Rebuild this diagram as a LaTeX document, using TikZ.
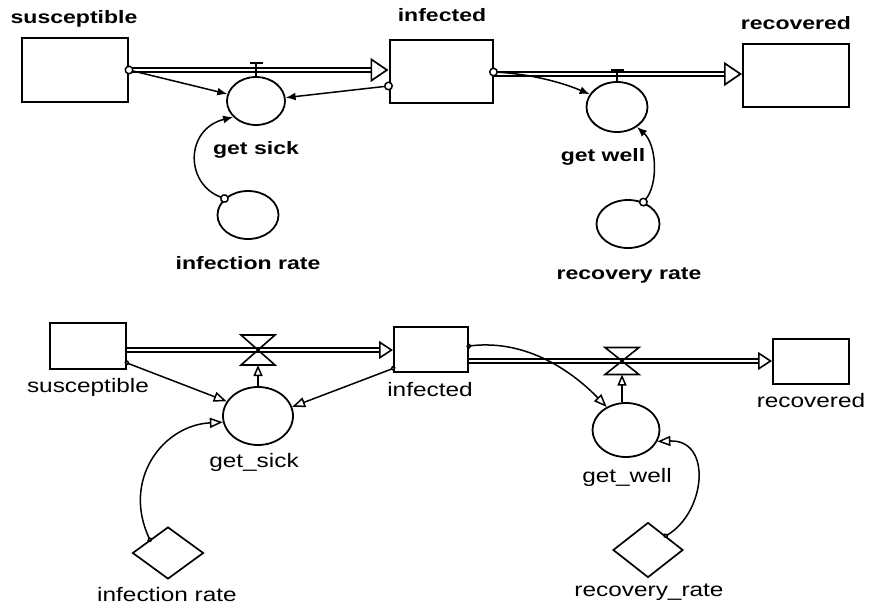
\documentclass[tikz,border=0pt]{standalone}
\usepackage{fontspec}
\setmainfont{Liberation Sans}
\newfontfamily\stellafont[FakeStretch=1.28]{Liberation Sans}
\newfontfamily\vensimfont[FakeStretch=1.25]{Liberation Sans}
\usetikzlibrary{shapes.geometric,arrows.meta,calc,positioning}
\newcommand{\valve}[3]{
  % hourglass valve sitting on a pipe
  \draw[line width=1.6pt] ($(#1)+(-#2,-#3)$) -- ($(#1)+(#2,-#3)$) -- ($(#1)+(-#2,#3)$) -- ($(#1)+(#2,#3)$) -- cycle;
}
\tikzset{x=1pt}
\tikzset{y=-1pt}
\tikzstyle{stock}=[draw, line width=2pt, inner sep=0]
\tikzstyle{aux}=[ellipse, draw, line width=1.8pt, inner sep=0]
\tikzstyle{const}=[diamond, draw, line width=1.7pt, inner sep=0]
\tikzstyle{stellalabel}=[inner sep=0, font=\stellafont\bfseries\fontsize{18}{20}\selectfont]
\tikzstyle{vensimlabel}=[inner sep=0, font=\vensimfont\fontsize{19.5}{22}\selectfont]
\tikzset{pipe/.style={double, double distance=2.5pt, line width=1.7pt,
    -{Triangle[open,length=18pt,width=24pt]}}}
\tikzset{pipetwo/.style={double, double distance=2pt, line width=1.6pt,
    -{Triangle[open,length=14pt,width=18pt]}}}
\tikzset{infoline/.style={line width=1.5pt, shorten <=-4.5pt,
    {Circle[length=9pt,fill=white]}-{Latex[length=10pt,width=8pt]}}}
\tikzset{infolinetwo/.style={line width=1.5pt, shorten <=-2.5pt,
    {Circle[length=5pt,fill=white]}-{Triangle[open,length=13pt,width=10pt]}}}
\tikzset{valvebar/.style={line width=1.6pt, -{Bar[width=13pt]}}}
\tikzset{rateline/.style={line width=1.5pt, -{Triangle[open,length=11pt,width=9pt]}}}

\begin{document}
\begin{tikzpicture}
  \useasboundingbox (0,0) rectangle (877,607);
  %% Stella version
  \draw (75,70) node[stock,minimum width=106pt,minimum height=64pt] (S1) {};
  \draw (441,72) node[stock,minimum width=103pt,minimum height=63pt] (I1) {};
  \draw (796,76) node[stock,minimum width=106pt,minimum height=63pt] (R1) {};
  \draw (256,101) node[aux,minimum width=58pt,minimum height=48pt] (GS1) {};
  \draw (248,215) node[aux,minimum width=61pt,minimum height=48pt] (IR1) {};
  \draw (617,107) node[aux,minimum width=61pt,minimum height=50pt] (GW1) {};
  \draw (628,224) node[aux,minimum width=63pt,minimum height=48pt] (RR1) {};
  \coordinate (V1) at (256,70);
  \coordinate (V3) at (617,74);
  \coordinate (T1) at (256,62);
  \coordinate (T3) at (617,69);

  \draw (74,19) node[stellalabel] (S1label) {susceptible};
  \draw (442,15) node[stellalabel] (I1label) {infected};
  \draw (796,23) node[stellalabel] (R1label) {recovered};
  \draw (256,150) node[stellalabel] (GS1label) {get sick};
  \draw (248,263) node[stellalabel] (IR1label) {infection rate};
  \draw (603,157) node[stellalabel] (GW1label) {get well};
  \draw (629,275) node[stellalabel] (RR1label) {recovery rate};

  \draw[pipe] (S1.east |- V1) -- (I1.west |- V1);
  \draw[pipe] (I1.east |- V3) -- (R1.west |- V3);
  \draw[valvebar] (GS1.north) -- (T1);
  \draw[valvebar] (GW1.north) -- (T3);

  \draw[infoline] (S1.east) -- (GS1);
  \draw[infoline] ([yshift=-14pt]I1.west) -- (GS1);
  \draw[infoline] (IR1.145) .. controls +(-40,-15) and +(-48,12) .. (GS1.215);
  \draw[infoline] (I1.east) .. controls +(37,2) and +(-28,-12) .. (GW1.155);
  \draw[infoline] (RR1.55) .. controls +(15,-18) and +(20,18) .. (GW1.-45);

  %% Vensim version
  \draw (88,346) node[stock,minimum width=76pt,minimum height=46pt] (S2) {};
  \draw (431,349) node[stock,minimum width=74pt,minimum height=45pt] (I2) {};
  \draw (811,361) node[stock,minimum width=76pt,minimum height=45pt] (R2) {};
  \draw (258,416) node[aux,minimum width=70pt,minimum height=58pt] (GS2) {};
  \draw (626,430) node[aux,minimum width=67pt,minimum height=54pt] (GW2) {};
  \draw (168,553) node[const,minimum width=71pt,minimum height=52pt] (IR2) {};
  \draw (648,550) node[const,minimum width=70pt,minimum height=55pt] (RR2) {};
  \coordinate (V2) at (258,350);
  \coordinate (V4) at (622,361);

  \draw (88,387) node[vensimlabel] (S2label) {susceptible};
  \draw (430,390) node[vensimlabel] (I2label) {infected};
  \draw (811,401) node[vensimlabel] (R2label) {recovered};
  \draw (254,462) node[vensimlabel] (GS2label) {get\_sick};
  \draw (167,595) node[vensimlabel] (IR2label) {infection rate};
  \draw (627,477) node[vensimlabel] (GW2label) {get\_well};
  \draw (649,592) node[vensimlabel] (RR2label) {recovery\_rate};

  \draw[pipetwo] (S2.east |- V2) -- (I2.west |- V2);
  \draw[pipetwo] (I2.east |- V4) -- (R2.west |- V4);
  \valve{V2}{17}{15}
  \valve{V4}{17}{13.5}
  \draw[rateline] (GS2.north) -- ([yshift=-15pt]V2);
  \draw[rateline] (V4 |- GW2.north) -- ([yshift=-13.5pt]V4);

  \draw[infolinetwo] ([yshift=7pt]S2.south east) -- (GS2.155);
  \draw[infolinetwo] ([yshift=4pt]I2.south west) -- (GS2.15);
  \draw[infolinetwo] (IR2.north west) .. controls +(-28,-60) and +(-60,3) .. (GS2.190);
  \draw[infolinetwo] ([yshift=3pt]I2.east) .. controls +(60,-7) and +(-32,-33) .. (GW2.130);
  \draw[infolinetwo] (RR2.north east) .. controls +(40,-24) and +(55,-2) .. (GW2.-20);
\end{tikzpicture}
\end{document}
